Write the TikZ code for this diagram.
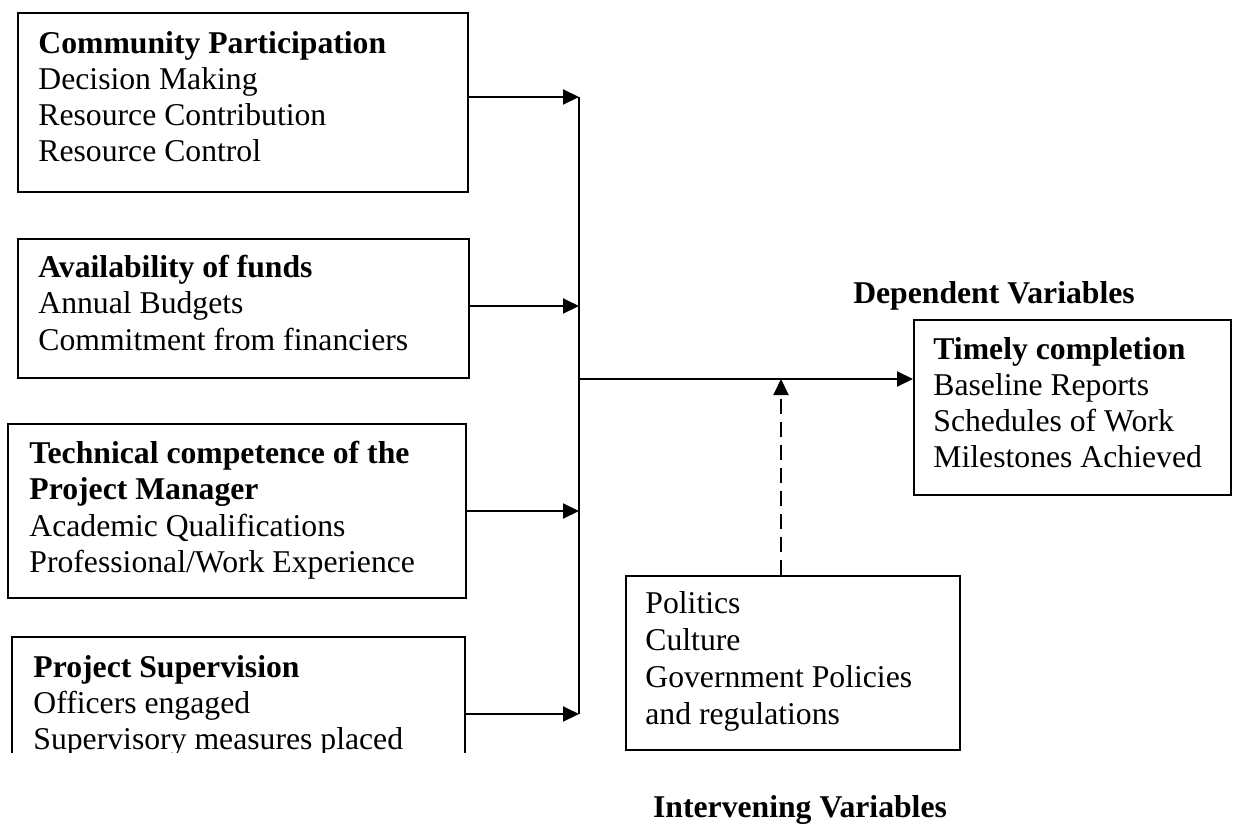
\documentclass[tikz,border=0pt]{standalone}
\usepackage{fontspec}
\setmainfont{Liberation Serif}
\usetikzlibrary{arrows.meta}
\begin{document}
\begin{tikzpicture}[x=0.5pt,y=-0.5pt,
  box/.style={draw, line width=1pt, inner sep=0pt, anchor=north west},
  hole/.style={inner sep=0pt, anchor=north west},
  txt/.style={anchor=base west, inner sep=0pt, font=\fontsize{15.85}{18}\selectfont},
  hd/.style={anchor=base west, inner sep=0pt, font=\fontsize{15.85}{18}\selectfont\bfseries},
  lbl/.style={anchor=base, inner sep=0pt, font=\fontsize{15.85}{18}\selectfont\bfseries},
  arr/.style={line width=1pt, -{Triangle[length=8pt,width=7.5pt]}},
  bus/.style={line width=1.3pt},
  dsh/.style={dash pattern=on 7.5pt off 4pt}
]
\useasboundingbox (0,0) rectangle (1236,825);

% boxes
\node[box, minimum width=225pt, minimum height=89.5pt] (b1) at (17,12) {};
\node[box, minimum width=225.5pt, minimum height=69.5pt] (b2) at (17,238) {};
\node[box, minimum width=229pt, minimum height=87pt] (b3) at (7,423) {};
\node[hole, minimum width=226pt, minimum height=57.5pt] (b4) at (12,637) {};
\draw[line width=1pt] (b4.south west) -- (b4.north west) -- (b4.north east) -- (b4.south east);
\node[box, minimum width=158.5pt, minimum height=87.5pt] (b5) at (913,319) {};
\node[box, minimum width=167pt, minimum height=87pt] (b6) at (625,575) {};

% box 1 text
\node[hd]  (t11) at (38,53) {Community Participation};
\node[txt] (t12) at (38,89.3) {Decision Making};
\node[txt] (t13) at (38,125.6) {Resource Contribution};
\node[txt] (t14) at (38,161.9) {Resource Control};

% box 2 text
\node[hd]  (t21) at (38,277.4) {Availability of funds};
\node[txt] (t22) at (38,313.7) {Annual Budgets};
\node[txt] (t23) at (38,350) {Commitment from financiers};

% box 3 text
\node[hd]  (t31) at (29,463) {Technical competence of the};
\node[hd]  (t32) at (29,499.5) {Project Manager};
\node[txt] (t33) at (29,536) {Academic Qualifications};
\node[txt] (t34) at (29,572.5) {Professional/Work Experience};

% box 4 text (cut at the bottom)
\begin{scope}
\clip (b4.north west) rectangle (b4.south east);
\node[hd]  (t41) at (33,677) {Project Supervision};
\node[txt] (t42) at (33,713) {Officers engaged};
\node[txt] (t43) at (33,749) {Supervisory measures placed};
\end{scope}

% box 5 text
\node[hd]  (t51) at (933,359) {Timely completion};
\node[txt] (t52) at (933,395.3) {Baseline Reports};
\node[txt] (t53) at (933,431.6) {Schedules of Work};
\node[txt] (t54) at (933,467.9) {Milestones Achieved};

% box 6 text
\node[txt] (t61) at (645,613) {Politics};
\node[txt] (t62) at (645,650) {Culture};
\node[txt] (t63) at (645,687) {Government Policies};
\node[txt] (t64) at (645,724) {and regulations};

% labels
\node[lbl] (dep) at (994,303) {Dependent Variables};
\node[lbl] (int) at (800,817) {Intervening Variables};

% connectors
\coordinate (a1) at (579,97);
\coordinate (a2) at (579,306);
\coordinate (a3) at (579,511);
\coordinate (a4) at (579,714);
\coordinate (m) at (579,379);
\coordinate (d) at (781,379);

\draw[bus] (a1) -- (a4);
\draw[arr] (a1 -| b1.east) -- (a1);
\draw[arr] (a2 -| b2.east) -- (a2);
\draw[arr] (a3 -| b3.east) -- (a3);
\draw[arr] (a4 -| b4.east) -- (a4);
\draw[arr] (m) -- (m -| b5.west);
\draw[arr, dsh] (d |- b6.north) -- (d);
\end{tikzpicture}
\end{document}
